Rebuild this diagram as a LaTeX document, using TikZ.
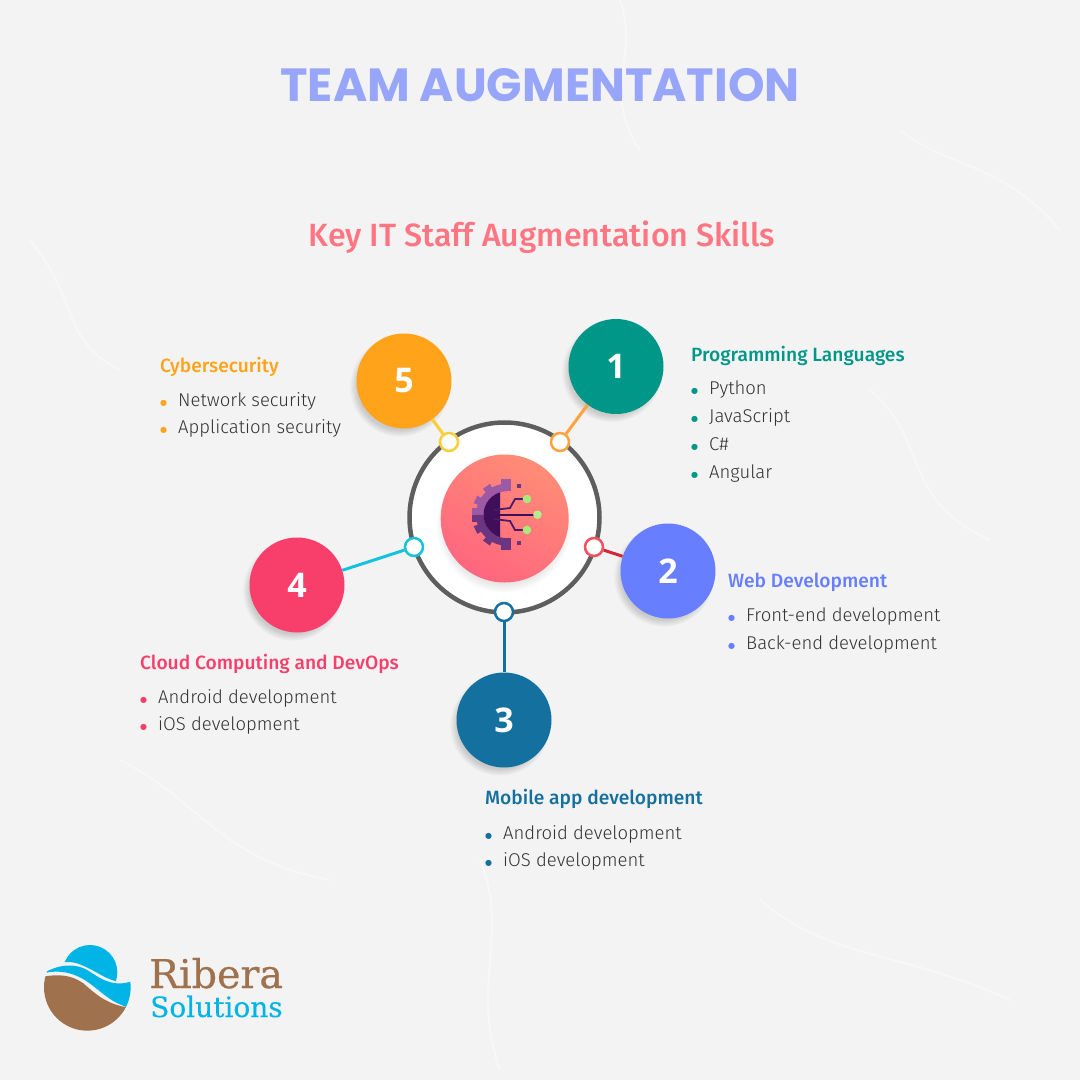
\documentclass[tikz,border=0pt]{standalone}
\usepackage{fontspec}
\setmainfont{Fira Sans Light}[BoldFont={Fira Sans Medium}]
\newfontfamily\titlefont{Poppins Bold}
\newfontfamily\numfont{Open Sans}[BoldFont={Open Sans Bold}]
\newfontfamily\logofont{DejaVu Serif}[FakeBold=0.6]
\newfontfamily\logothin{DejaVu Serif}[FakeBold=0.2]
\newfontfamily\dotfont{DejaVu Sans}
\usetikzlibrary{calc,positioning,shadows}
\definecolor{pagebg}{HTML}{F3F3F3}
\definecolor{titleblue}{HTML}{97A6FB}
\definecolor{subred}{HTML}{FF7581}
\definecolor{textgrey}{HTML}{333333}
\definecolor{ringgrey}{HTML}{5E5E5E}
\definecolor{teal1}{HTML}{009688}
\definecolor{blue2}{HTML}{667EFF}
\definecolor{blue3}{HTML}{14709E}
\definecolor{red4}{HTML}{F83F6B}
\definecolor{orange5}{HTML}{FFA31A}
\definecolor{portorange}{HTML}{FFA23E}
\definecolor{portred}{HTML}{F4505F}
\definecolor{linkred}{HTML}{D0293C}
\definecolor{portcyan}{HTML}{13C2DC}
\definecolor{portyellow}{HTML}{F9CE3A}
\definecolor{gearlight}{HTML}{9C5AA6}
\definecolor{geardark}{HTML}{6C3582}
\definecolor{gearcore}{HTML}{3F0F5C}
\definecolor{chipgreen}{HTML}{A9E87C}
\definecolor{logoblue}{HTML}{00B5E6}
\definecolor{logobrown}{HTML}{A0714D}
\definecolor{coretop}{HTML}{FF8C76}
\definecolor{corebot}{HTML}{FF667F}
\tikzset{
    every node/.style={text=textgrey},
    num node/.style={shape=circle, minimum size=95pt, inner sep=0pt,
        fill=#1, text=white, font=\numfont\bfseries\fontsize{34}{34}\selectfont,
        circular drop shadow={shadow xshift=-4pt, shadow yshift=-5pt, shadow scale=1.06, opacity=.35}},
    port node/.style={shape=circle, minimum size=18pt, inner sep=0pt,
        fill=white, draw=#1, line width=2.5pt},
    head node/.style={anchor=base west, inner sep=0pt, text=#1,
        font=\bfseries\fontsize{19.2}{19.2}\selectfont},
    list node/.style={anchor=north west, inner sep=0pt, align=left,
        font=\fontsize{18.5}{27.7}\selectfont},
    link/.style={line width=3pt}
}
\newcommand{\skill}[2]{\makebox[18pt][l]{\raisebox{1pt}{\dotfont\fontsize{8}{8}\selectfont\textcolor{#1}{●}}}#2}
\begin{document}
\begin{tikzpicture}[x=1pt,y=-1pt]
    \useasboundingbox (0,0) rectangle (1080,1080);
    \fill[pagebg] (0,0) rectangle (1080,1080);

    % paper creases
    \begin{scope}[white,line width=2pt,opacity=.4]
        \draw (620,0) .. controls (640,60) and (600,90) .. (640,150);
        \draw (30,240) .. controls (80,300) and (60,340) .. (120,370);
        \draw (870,390) .. controls (930,440) and (900,500) .. (990,540);
        \draw (120,760) .. controls (200,800) and (220,860) .. (330,880);
        \draw (760,900) .. controls (830,960) and (900,950) .. (1010,1000);
        \draw (480,860) .. controls (510,930) and (470,990) .. (500,1070);
        \draw (900,130) .. controls (950,170) and (1000,160) .. (1060,230);
    \end{scope}

    \node[anchor=base, inner sep=0pt, text=titleblue, font=\titlefont\fontsize{46.5}{46.5}\selectfont]
        (title) at (540,101.5) {TEAM AUGMENTATION};
    \node[anchor=base, inner sep=0pt, text=subred, font=\bfseries\fontsize{32.2}{32.2}\selectfont]
        (subtitle) at (542,246) {Key IT Staff Augmentation Skills};

    % hub
    \node[circle, minimum size=190pt, inner sep=0pt, fill=white, draw=ringgrey, line width=4.5pt] (ring) at (504.5,517.5) {};
    \node[circle, minimum size=128pt, inner sep=0pt, top color=coretop, bottom color=corebot, shading angle=-30,
        circular drop shadow={shadow xshift=-1pt, shadow yshift=-6pt, shadow scale=1.06, opacity=.2}] (core) at (504.7,518.5) {};

    % gear
    \coordinate (gear) at (507,514.7);
    \begin{scope}[shift={(gear)},x=1pt,y=1pt]
        \fill[gearlight] (90:31) arc[start angle=90,end angle=180,radius=31] -- (180:23.5)
            arc[start angle=180,end angle=90,radius=23.5] -- cycle;
        \fill[geardark] (-90:31) arc[start angle=-90,end angle=-180,radius=31] -- (-180:23.5)
            arc[start angle=-180,end angle=-90,radius=23.5] -- cycle;
        \foreach \a in {119,147} {
            \fill[gearlight] (\a:30) -- (\a:35.3) -- (\a+14:35.3) -- (\a+14:30) -- cycle;
            \fill[geardark] (-\a:30) -- (-\a:35.3) -- (-\a-14:35.3) -- (-\a-14:30) -- cycle;
        }
        \fill[gearlight] (-6.3,23.5) rectangle (3.7,35.3);
        \fill[geardark] (-6.3,-23.5) rectangle (3.7,-35.3);
        \fill[gearlight] (-35.3,0) rectangle (-30,7);
        \fill[geardark] (-35.3,0) rectangle (-30,-7);
        \fill[gearcore] (107:23.5) arc[start angle=107,end angle=253,radius=23.5] -- cycle;
    \end{scope}
    \begin{scope}[gearcore!70!geardark,line width=1.8pt]
        \draw (494,510) -- (510,508) -- (515,499) -- (526,499);
        \draw (494,519) -- (510,521) -- (515,530) -- (526,530);
        \draw[gearcore] (493,514.7) -- (537,514.7);
    \end{scope}
    \foreach \y in {499,530} \fill[chipgreen] (527,\y) circle (4.3);
    \fill[chipgreen!85!white] (537.5,514.7) circle (4.3);
    \fill[geardark] (517.3,484) rectangle +(4,4);
    \fill[geardark] (517.3,541) rectangle +(4,4);

    % numbered circles
    \node[num node=teal1] (n1) at (616,366.5) {1};
    \node[num node=blue2] (n2) at (668,571) {2};
    \node[num node=blue3] (n3) at (504,720) {3};
    \node[num node=red4] (n4) at (297,585) {4};
    \node[num node=orange5] (n5) at (404,381) {5};

    % ports
    \node[port node=portorange] (p1) at (560,442) {};
    \node[port node=portred] (p2) at (594,547) {};
    \node[port node=blue3] (p3) at (504,612) {};
    \node[port node=portcyan] (p4) at (414,547) {};
    \node[port node=portyellow] (p5) at (449,442) {};

    \draw[link,portorange] (n1) -- (p1);
    \draw[link,linkred] (n2) -- (p2);
    \draw[link,blue3] (n3) -- (p3);
    \draw[link,portcyan] (n4) -- (p4);
    \draw[link,portyellow] (n5) -- (p5);

    % labels
    \node[head node=teal1] (h1) at (691,361) {Programming Languages};
    \node[list node] (l1) at (691,381) {\skill{teal1}{Python}\\\skill{teal1}{JavaScript}\\\skill{teal1}{C\#}\\\skill{teal1}{Angular}};
    \node[head node=blue2] (h2) at (728,587) {Web Development};
    \node[list node] (l2) at (728,608) {\skill{blue2}{Front-end development}\\\skill{blue2}{Back-end development}};
    \node[head node=blue3] (h3) at (485,804) {Mobile app development};
    \node[list node] (l3) at (485,825) {\skill{blue3}{Android development}\\\skill{blue3}{iOS development}};
    \node[head node=red4] (h4) at (140,669) {Cloud Computing and DevOps};
    \node[list node] (l4) at (140,689) {\skill{red4}{Android development}\\\skill{red4}{iOS development}};
    \node[head node=orange5] (h5) at (160,372) {Cybersecurity};
    \node[list node] (l5) at (160,392) {\skill{orange5}{Network security}\\\skill{orange5}{Application security}};

    % logo
    \begin{scope}[shift={(30,930)},scale=1/3]
        \begin{scope}
            \clip (180,127) circle (82);
            \fill[logoblue] (90,100) .. controls (120,90) and (145,100) .. (170,112)
                .. controls (200,125) and (230,150) .. (270,156) -- (270,30) -- (90,30) -- cycle;
        \end{scope}
        \begin{scope}
            \clip (172,172) circle (130);
            \fill[logoblue] (40,130) .. controls (90,100) and (140,100) .. (175,122)
                .. controls (210,145) and (250,175) .. (310,152) -- (310,240)
                -- (272,224) .. controls (225,205) and (195,165) .. (150,142)
                .. controls (115,125) and (80,120) .. (40,130) -- cycle;
            \fill[logobrown] (30,142) .. controls (85,130) and (125,135) .. (160,160)
                .. controls (195,190) and (225,220) .. (290,232) -- (310,320) -- (30,320) -- cycle;
        \end{scope}
    \end{scope}
    \node[anchor=base west, inner sep=0pt, text=logobrown, font=\logofont\fontsize{39.6}{39.6}\selectfont] (ribera) at (149,988) {Ribera};
    \node[anchor=base west, inner sep=0pt, text=logoblue, font=\logothin\fontsize{28}{28}\selectfont] (solutions) at (150,1017) {Solutions};
\end{tikzpicture}
\end{document}
